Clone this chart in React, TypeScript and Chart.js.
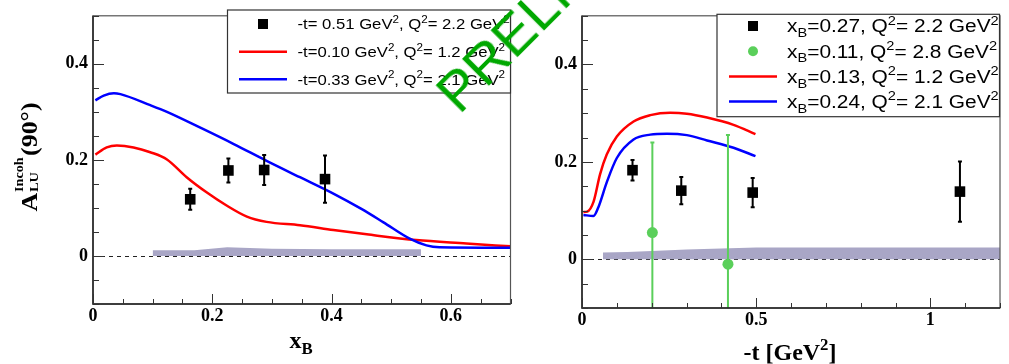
import React, { useEffect, useRef } from "react";
import { Chart, registerables } from "chart.js";

Chart.register(...registerables);

// ---------------- Left panel: A_LU vs x_B ----------------
const leftDataX = [0.163, 0.227, 0.287, 0.389];
const leftDataY = [0.118, 0.178, 0.179, 0.16];
const leftDataErr = [0.022, 0.025, 0.031, 0.049];

const leftRedX = [0.004, 0.023, 0.04, 0.068, 0.096, 0.124, 0.157, 0.191, 0.224, 0.258, 0.291, 0.347, 0.403, 0.459, 0.542, 0.626, 0.7];
const leftRedY = [0.211, 0.226, 0.23, 0.226, 0.216, 0.201, 0.164, 0.132, 0.105, 0.082, 0.071, 0.064, 0.054, 0.045, 0.033, 0.026, 0.02];

const leftBlueX = [0.004, 0.018, 0.035, 0.046, 0.096, 0.124, 0.18, 0.236, 0.291, 0.347, 0.403, 0.45, 0.487, 0.531, 0.559, 0.581, 0.7];
const leftBlueY = [0.324, 0.334, 0.339, 0.337, 0.314, 0.3, 0.267, 0.233, 0.198, 0.164, 0.13, 0.098, 0.07, 0.036, 0.022, 0.018, 0.017];

const leftBandX = [0.1, 0.17, 0.225, 0.3, 0.4, 0.55];
const leftBandY = [0.012, 0.012, 0.018, 0.015, 0.014, 0.014];

const leftXTicks = [0, 0.2, 0.4, 0.6];
const leftYTicks = [0, 0.2, 0.4];
const leftLegendLabels = [
  "-t= 0.51 GeV^{2}, Q^{2}= 2.2 GeV^{2}",
  "-t=0.10 GeV^{2}, Q^{2}= 1.2 GeV^{2}",
  "-t=0.33 GeV^{2}, Q^{2}= 2.1 GeV^{2}",
];

// ---------------- Right panel: A_LU vs -t ----------------
const rightDataX = [0.145, 0.285, 0.49, 1.085];
const rightDataY = [0.183, 0.141, 0.137, 0.139];
const rightDataErr = [0.021, 0.028, 0.03, 0.062];

const rightGreenX = [0.202, 0.419];
const rightGreenY = [0.055, -0.01];
const rightGreenErr = [0.185, 0.265];

const rightRedX = [0.004, 0.015, 0.033, 0.052, 0.071, 0.1, 0.148, 0.196, 0.253, 0.301, 0.359, 0.435, 0.498];
const rightRedY = [0.097, 0.098, 0.118, 0.175, 0.215, 0.252, 0.283, 0.296, 0.301, 0.299, 0.291, 0.276, 0.257];

const rightBlueX = [0.004, 0.033, 0.047, 0.071, 0.1, 0.148, 0.196, 0.244, 0.301, 0.359, 0.435, 0.498];
const rightBlueY = [0.091, 0.089, 0.107, 0.158, 0.208, 0.246, 0.256, 0.258, 0.255, 0.244, 0.229, 0.212];

const rightBandX = [0.06, 0.13, 0.2, 0.3, 0.4, 0.5, 0.8, 1.2];
const rightBandY = [0.014, 0.015, 0.017, 0.02, 0.022, 0.024, 0.024, 0.024];

const rightXTicks = [0, 0.5, 1];
const rightYTicks = [0, 0.2, 0.4];
const rightLegendLabels = [
  "x_{B}=0.27, Q^{2}= 2.2 GeV^{2}",
  "x_{B}=0.11, Q^{2}= 2.8 GeV^{2}",
  "x_{B}=0.13, Q^{2}= 1.2 GeV^{2}",
  "x_{B}=0.24, Q^{2}= 2.1 GeV^{2}",
];

const watermark = "PRELIMINARY";

// ---------------- styles ----------------
const SERIF = '"Liberation Serif", "DejaVu Serif", serif';
const SANS = '"Liberation Sans", Arial, sans-serif';
const RED = "#ff0000";
const BLUE = "#0000ff";
const GREEN = "#5acf5a";
const BAND = "#a9a6c6";

const pts = (xs: number[], ys: number[]) => xs.map((x, i) => ({ x, y: ys[i] }));

type Seg = { t: string; k: "n" | "sup" | "sub" };
function segs(s: string): Seg[] {
  const out: Seg[] = [];
  s.split(/(\^\{[^}]*\}|_\{[^}]*\})/).forEach((p) => {
    if (!p) return;
    if (p.startsWith("^{")) out.push({ t: p.slice(2, -1), k: "sup" });
    else if (p.startsWith("_{")) out.push({ t: p.slice(2, -1), k: "sub" });
    else out.push({ t: p, k: "n" });
  });
  return out;
}

function richText(
  ctx: CanvasRenderingContext2D,
  s: string,
  x: number,
  y: number,
  size: number,
  family: string,
  weight: string,
  align: "left" | "center",
  sx = 1
) {
  const parts = segs(s);
  const font = (sz: number) => `${weight} ${sz}px ${family}`;
  const items: { t: string; sz: number; dx: number; dy: number }[] = [];
  let cx = 0;
  for (let i = 0; i < parts.length; i++) {
    const p = parts[i];
    if (p.k === "n") {
      ctx.font = font(size);
      items.push({ t: p.t, sz: size, dx: cx, dy: 0 });
      cx += ctx.measureText(p.t).width;
    } else if (p.k === "sup" && parts[i + 1] && parts[i + 1].k === "sub") {
      const sz = size * 0.55;
      ctx.font = font(sz);
      const w1 = ctx.measureText(p.t).width;
      const w2 = ctx.measureText(parts[i + 1].t).width;
      items.push({ t: p.t, sz, dx: cx + size * 0.03, dy: -0.58 * size });
      items.push({ t: parts[i + 1].t, sz, dx: cx + size * 0.03, dy: 0.05 * size });
      cx += Math.max(w1, w2) + size * 0.08;
      i++;
    } else {
      const sz = size * 0.7;
      ctx.font = font(sz);
      items.push({ t: p.t, sz, dx: cx, dy: p.k === "sup" ? -0.43 * size : 0.26 * size });
      cx += ctx.measureText(p.t).width;
    }
  }
  const x0 = align === "center" ? -(cx * sx) / 2 : 0;
  ctx.save();
  ctx.translate(x + x0, y);
  ctx.scale(sx, 1);
  ctx.textAlign = "left";
  ctx.textBaseline = "alphabetic";
  items.forEach((it) => {
    ctx.font = font(it.sz);
    ctx.fillText(it.t, it.dx, it.dy);
  });
  ctx.restore();
  return cx * sx;
}

type LegendEntry = { kind: "square" | "circle" | "line"; color: string; label: string };
interface Panel {
  width: number;
  left: number;
  padding: { left: number; right: number; top: number; bottom: number };
  yAxisWidth: number;
  xAxisHeight: number;
  xMin: number;
  xMax: number;
  yMin: number;
  yMax: number;
  xTicks: number[];
  yTicks: number[];
  xMinor: number;
  yMinor: number;
  datasets: any[];
  legend: {
    box: [number, number, number, number];
    rows: number[];
    markerX: number;
    lineX1: number;
    lineX2: number;
    textX: number;
    fontSize: number;
    stretch: number;
    entries: LegendEntry[];
  };
  titles: { text: string; x: number; y: number; size: number; rotate?: boolean; stretch?: number }[];
}

function minorValues(min: number, max: number, step: number) {
  const a: number[] = [];
  for (let i = Math.ceil(min / step - 1e-9); i * step <= max + 1e-9; i++) a.push(+(i * step).toFixed(6));
  return a;
}

function buildChart(canvas: HTMLCanvasElement, P: Panel) {
  const plugin = {
    id: "rootStyle",
    beforeDatasetsDraw(chart: any) {
      const ctx = chart.ctx as CanvasRenderingContext2D;
      const { left, right } = chart.chartArea;
      const y0 = Math.round(chart.scales.y.getPixelForValue(0)) + 0.5;
      ctx.save();
      ctx.strokeStyle = "#222";
      ctx.lineWidth = 1;
      ctx.setLineDash([4, 4]);
      ctx.beginPath();
      ctx.moveTo(left, y0);
      ctx.lineTo(right, y0);
      ctx.stroke();
      ctx.restore();
    },
    beforeDatasetDraw(chart: any, args: any) {
      const ds = chart.data.datasets[args.index];
      if (!ds.errs) return;
      const ctx = chart.ctx as CanvasRenderingContext2D;
      const { left, right, top, bottom } = chart.chartArea;
      const xs = chart.scales.x;
      const ys = chart.scales.y;
      ctx.save();
      ctx.beginPath();
      ctx.rect(left, top, right - left, bottom - top);
      ctx.clip();
      ctx.strokeStyle = ds.errColor;
      ctx.lineWidth = 2;
      ds.data.forEach((p: any, i: number) => {
        const px = xs.getPixelForValue(p.x);
        const y1 = ys.getPixelForValue(p.y + ds.errs[i]);
        const y2 = ys.getPixelForValue(p.y - ds.errs[i]);
        ctx.beginPath();
        ctx.moveTo(px, y1);
        ctx.lineTo(px, y2);
        ctx.moveTo(px - 2, y1);
        ctx.lineTo(px + 2, y1);
        ctx.moveTo(px - 2, y2);
        ctx.lineTo(px + 2, y2);
        ctx.stroke();
      });
      ctx.restore();
    },
    afterDatasetsDraw(chart: any) {
      const ctx = chart.ctx as CanvasRenderingContext2D;
      const { left, right, top, bottom } = chart.chartArea;
      const xs = chart.scales.x;
      const ys = chart.scales.y;
      ctx.save();
      ctx.strokeStyle = "#555";
      ctx.lineWidth = 1.2;
      ctx.strokeRect(left, top, right - left, bottom - top);
      ctx.strokeStyle = "#222";
      ctx.lineWidth = 1.5;
      ctx.beginPath();
      ctx.moveTo(left, top);
      ctx.lineTo(left, bottom);
      ctx.lineTo(right, bottom);
      ctx.stroke();
      ctx.lineWidth = 1;
      ctx.strokeStyle = "#333";
      ctx.beginPath();
      minorValues(P.xMin, P.xMax, P.xMinor).forEach((v) => {
        const major = P.xTicks.some((t) => Math.abs(t - v) < 1e-6);
        const px = Math.round(xs.getPixelForValue(v)) + 0.5;
        ctx.moveTo(px, bottom);
        ctx.lineTo(px, bottom - (major ? 10 : 5));
      });
      minorValues(P.yMin, P.yMax, P.yMinor).forEach((v) => {
        const major = P.yTicks.some((t) => Math.abs(t - v) < 1e-6);
        const py = Math.round(ys.getPixelForValue(v)) + 0.5;
        ctx.moveTo(left, py);
        ctx.lineTo(left + (major ? 11 : 6), py);
      });
      ctx.stroke();
      ctx.restore();
    },
    afterDraw(chart: any) {
      const ctx = chart.ctx as CanvasRenderingContext2D;
      const L = P.legend;
      ctx.save();
      const [x1, y1, x2, y2] = L.box;
      ctx.fillStyle = "#fff";
      ctx.fillRect(x1, y1, x2 - x1, y2 - y1);
      ctx.strokeStyle = "#333";
      ctx.lineWidth = 1.2;
      ctx.strokeRect(x1, y1, x2 - x1, y2 - y1);
      L.entries.forEach((e, i) => {
        const cy = L.rows[i];
        ctx.fillStyle = e.color;
        ctx.strokeStyle = e.color;
        if (e.kind === "square") {
          ctx.fillRect(L.markerX - 5, cy - 5, 10, 10);
        } else if (e.kind === "circle") {
          ctx.beginPath();
          ctx.arc(L.markerX, cy, 5, 0, Math.PI * 2);
          ctx.fill();
        } else {
          ctx.lineWidth = 2.5;
          ctx.beginPath();
          ctx.moveTo(L.lineX1, cy);
          ctx.lineTo(L.lineX2, cy);
          ctx.stroke();
        }
        ctx.fillStyle = "#000";
        richText(ctx, e.label, L.textX, cy + L.fontSize * 0.36, L.fontSize, SANS, "normal", "left", L.stretch);
      });
      P.titles.forEach((t) => {
        ctx.save();
        ctx.fillStyle = "#000";
        ctx.translate(t.x, t.y);
        if (t.rotate) {
          ctx.rotate(-Math.PI / 2);
          richText(ctx, t.text, 0, 7, t.size, SERIF, "bold", "center", t.stretch || 1);
        } else {
          richText(ctx, t.text, 0, 0, t.size, SERIF, "bold", "center", t.stretch || 1);
        }
        ctx.restore();
      });
      ctx.restore();
    },
  };

  const tickFont = { family: SERIF, weight: "bold" as const, size: 18 };
  return new Chart(canvas, {
    type: "line",
    data: { datasets: P.datasets },
    options: {
      responsive: false,
      animation: false,
      events: [],
      layout: { padding: P.padding },
      plugins: { legend: { display: false }, tooltip: { enabled: false }, title: { display: false } },
      scales: {
        x: {
          type: "linear",
          min: P.xMin,
          max: P.xMax,
          afterBuildTicks: (s: any) => {
            s.ticks = P.xTicks.map((v) => ({ value: v }));
          },
          afterFit: (s: any) => {
            s.height = P.xAxisHeight;
          },
          grid: { display: false, drawTicks: false },
          border: { display: false },
          ticks: {
            font: tickFont,
            color: "#000",
            padding: 2,
            maxRotation: 0,
            autoSkip: false,
            callback: (v: any) => String(v),
          },
        },
        y: {
          type: "linear",
          min: P.yMin,
          max: P.yMax,
          afterBuildTicks: (s: any) => {
            s.ticks = P.yTicks.map((v) => ({ value: v }));
          },
          afterFit: (s: any) => {
            s.width = P.yAxisWidth;
          },
          grid: { display: false, drawTicks: false },
          border: { display: false },
          ticks: {
            font: tickFont,
            color: "#000",
            padding: 5,
            autoSkip: false,
            callback: (v: any) => String(v),
          },
        },
      },
    },
    plugins: [plugin],
  } as any);
}

const curve = (xs: number[], ys: number[], color: string) => ({
  type: "line",
  data: pts(xs, ys),
  borderColor: color,
  borderWidth: 2.5,
  pointRadius: 0,
  fill: false,
  showLine: true,
  cubicInterpolationMode: "monotone",
});

const band = (xs: number[], ys: number[]) => ({
  type: "line",
  data: pts(xs, ys),
  borderColor: "rgba(0,0,0,0)",
  borderWidth: 0,
  backgroundColor: BAND,
  pointRadius: 0,
  fill: { value: 0 },
  showLine: true,
  tension: 0,
});

const markers = (xs: number[], ys: number[], errs: number[], style: string, color: string, r: number) => ({
  type: "line",
  data: pts(xs, ys),
  showLine: false,
  pointStyle: style,
  pointRadius: r,
  pointBackgroundColor: color,
  pointBorderWidth: 0,
  pointBorderColor: color,
  errs,
  errColor: color,
  clip: false,
});

const leftPanel: Panel = {
  width: 520,
  left: 0,
  padding: { left: 0, right: 9.5, top: 10, bottom: 0 },
  yAxisWidth: 93,
  xAxisHeight: 60,
  xMin: 0,
  xMax: 0.7,
  yMin: -0.1,
  yMax: 0.5,
  xTicks: leftXTicks,
  yTicks: leftYTicks,
  xMinor: 0.05,
  yMinor: 0.05,
  datasets: [
    markers(leftDataX, leftDataY, leftDataErr, "rect", "#000", 7.5),
    curve(leftBlueX, leftBlueY, BLUE),
    curve(leftRedX, leftRedY, RED),
    band(leftBandX, leftBandY),
  ],
  legend: {
    box: [227.5, 10, 510.5, 93],
    rows: [24, 51.7, 79.3],
    markerX: 263,
    lineX1: 239,
    lineX2: 287,
    textX: 297.5,
    fontSize: 14.5,
    stretch: 1.15,
    entries: [
      { kind: "square", color: "#000", label: leftLegendLabels[0] },
      { kind: "line", color: RED, label: leftLegendLabels[1] },
      { kind: "line", color: BLUE, label: leftLegendLabels[2] },
    ],
  },
  titles: [
    { text: "A^{Incoh}_{LU}(90°)", x: 30, y: 157, size: 24, rotate: true, stretch: 1.08 },
    { text: "x_{B}", x: 301, y: 348, size: 24 },
  ],
};

const rightPanel: Panel = {
  width: 489,
  left: 520,
  padding: { left: 0, right: 9, top: 14, bottom: 0 },
  yAxisWidth: 62,
  xAxisHeight: 56,
  xMin: 0,
  xMax: 1.2,
  yMin: -0.1,
  yMax: 0.5,
  xTicks: rightXTicks,
  yTicks: rightYTicks,
  xMinor: 0.1,
  yMinor: 0.05,
  datasets: [
    markers(rightDataX, rightDataY, rightDataErr, "rect", "#000", 7.5),
    markers(rightGreenX, rightGreenY, rightGreenErr, "circle", GREEN, 5.5),
    curve(rightBlueX, rightBlueY, BLUE),
    curve(rightRedX, rightRedY, RED),
    band(rightBandX, rightBandY),
  ],
  legend: {
    box: [197, 14.3, 479.5, 116.7],
    rows: [26, 51.2, 76.4, 101.6],
    markerX: 233,
    lineX1: 209,
    lineX2: 257,
    textX: 267,
    fontSize: 18,
    stretch: 1.16,
    entries: [
      { kind: "square", color: "#000", label: rightLegendLabels[0] },
      { kind: "circle", color: GREEN, label: rightLegendLabels[1] },
      { kind: "line", color: RED, label: rightLegendLabels[2] },
      { kind: "line", color: BLUE, label: rightLegendLabels[3] },
    ],
  },
  titles: [{ text: "-t [GeV^{2}]", x: 270, y: 360, size: 24 }],
};

function PanelCanvas({ panel }: { panel: Panel }) {
  const ref = useRef<HTMLCanvasElement | null>(null);
  useEffect(() => {
    if (!ref.current) return;
    const chart = buildChart(ref.current, panel);
    return () => chart.destroy();
  }, [panel]);
  return (
    <canvas
      ref={ref}
      width={panel.width}
      height={364}
      style={{ position: "absolute", left: panel.left, top: 0, width: panel.width, height: 364 }}
    />
  );
}

export default function App() {
  return (
    <div
      style={{
        position: "absolute",
        left: 0,
        top: 0,
        width: 1009,
        height: 364,
        overflow: "hidden",
        background: "#fff",
      }}
    >
      <PanelCanvas panel={leftPanel} />
      <PanelCanvas panel={rightPanel} />
      <div
        style={{
          position: "absolute",
          left: 460,
          top: 116 - 48,
          fontFamily: SANS,
          fontSize: 56,
          lineHeight: "56px",
          color: "#00a800",
          whiteSpace: "nowrap",
          transformOrigin: "0 48px",
          transform: "rotate(-45deg)",
          pointerEvents: "none",
        }}
      >
        {watermark}
      </div>
    </div>
  );
}
